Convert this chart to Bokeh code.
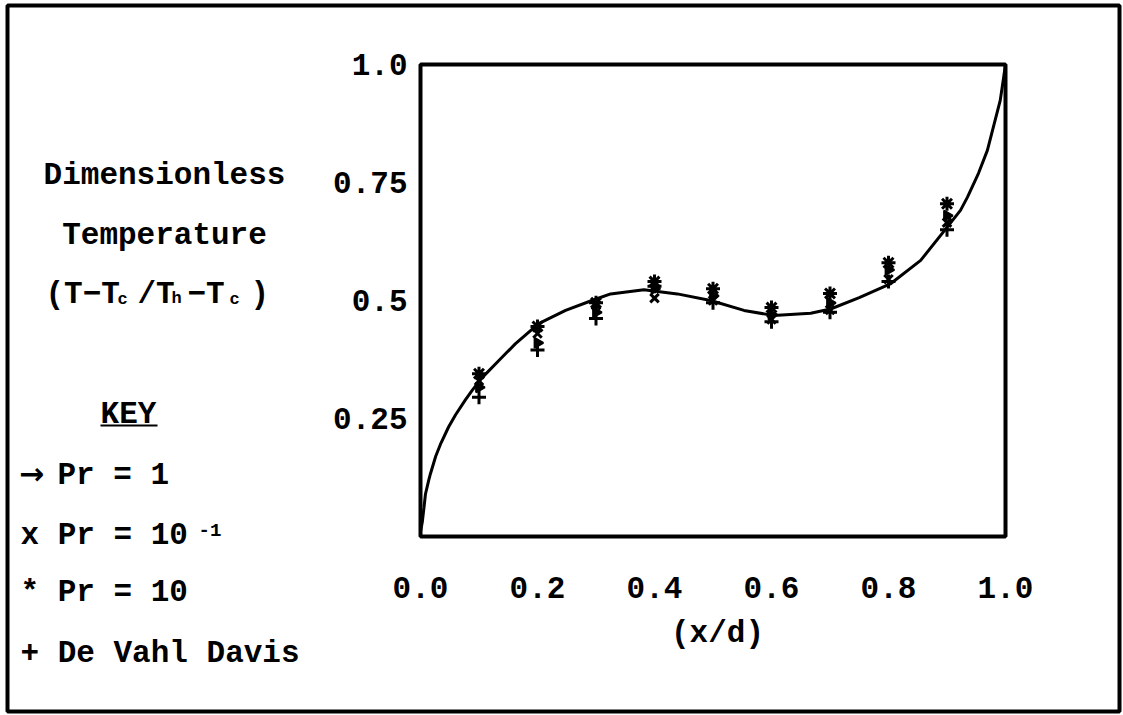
import math
from bokeh.plotting import figure
from bokeh.models import Range1d, FixedTicker, Label, BoxAnnotation
from bokeh.embed import file_html
from bokeh.resources import INLINE

# ---------------- data ----------------
curve_x = [0.0, 0.003, 0.006, 0.0085, 0.014, 0.017, 0.026, 0.034, 0.048, 0.06,
           0.077, 0.088, 0.105, 0.134, 0.162, 0.202, 0.248, 0.293, 0.325, 0.382,
           0.439, 0.496, 0.553, 0.604, 0.667, 0.701, 0.75, 0.803, 0.855, 0.9,
           0.923, 0.935, 0.954, 0.969, 0.991, 0.997, 1.0]
curve_y = [0.01, 0.03, 0.062, 0.09, 0.119, 0.133, 0.17, 0.195, 0.232, 0.258,
           0.29, 0.309, 0.336, 0.373, 0.408, 0.451, 0.479, 0.5, 0.514, 0.523,
           0.514, 0.5, 0.479, 0.468, 0.473, 0.482, 0.506, 0.535, 0.585, 0.655,
           0.691, 0.719, 0.77, 0.818, 0.924, 0.974, 1.0]

station_x = [0.1, 0.2, 0.3, 0.4, 0.5, 0.6, 0.7, 0.8, 0.9]
pr_1 = [0.316, 0.41, 0.475, 0.525, 0.51, 0.47, 0.495, 0.565, 0.68]
pr_01 = [0.33, 0.43, 0.49, 0.505, 0.5, 0.46, 0.48, 0.545, 0.665]
pr_10 = [0.345, 0.445, 0.495, 0.54, 0.525, 0.485, 0.515, 0.58, 0.705]
de_vahl_davis = [0.295, 0.395, 0.462, 0.53, 0.495, 0.455, 0.475, 0.54, 0.65]

x_ticks = [0.0, 0.2, 0.4, 0.6, 0.8, 1.0]
x_tick_labels = ["0.0", "0.2", "0.4", "0.6", "0.8", "1.0"]
y_ticks = [0.25, 0.5, 0.75, 1.0]
y_tick_labels = ["0.25", "0.5", "0.75", "1.0"]
x_title = "(x/d)"

FONT = "Liberation Mono"
FS = 31

# ---------------- layout: canvas pixels of the plot box ----------------
W, H = 1123, 715
BOX_L, BOX_R, BOX_T, BOX_B = 420, 1005, 64, 536
SX = (BOX_R - BOX_L)          # pixels per unit x
SY = (BOX_B - BOX_T)          # pixels per unit y


def dx(px):
    return (px - BOX_L) / SX


def dy(py):
    return (BOX_B - py) / SY


p = figure(width=W, height=H, output_backend="svg", toolbar_location=None,
           x_range=Range1d(dx(0), dx(W)), y_range=Range1d(dy(H), dy(0)),
           min_border=0)
p.grid.visible = False
p.outline_line_color = None
p.background_fill_color = "white"
p.border_fill_color = "white"

for ax in (p.xaxis[0], p.yaxis[0]):
    ax.fixed_location = 0
    ax.axis_line_color = None
    ax.major_tick_line_color = None
    ax.minor_tick_line_color = None
    ax.major_label_text_font = FONT
    ax.major_label_text_font_size = f"{FS}px"
    ax.major_label_text_font_style = "bold"
    ax.major_label_text_color = "black"

p.xaxis.ticker = FixedTicker(ticks=x_ticks)
p.xaxis.major_label_overrides = dict(zip(x_ticks, x_tick_labels))
p.yaxis.ticker = FixedTicker(ticks=y_ticks)
p.yaxis.major_label_overrides = dict(zip(y_ticks, y_tick_labels))
p.xaxis.major_label_standoff = 34
p.yaxis.major_label_standoff = 7

# plot box and outer border
p.add_layout(BoxAnnotation(left=0, right=1, bottom=0, top=1, fill_alpha=0,
                           line_color="black", line_width=4, line_alpha=1))
p.add_layout(BoxAnnotation(left=dx(7), right=dx(1119), top=dy(5), bottom=dy(711),
                           fill_alpha=0, line_color="black", line_width=4, line_alpha=1))

# ---------------- marks ----------------
p.line(curve_x, curve_y, line_width=3, line_color="black")
p.scatter(station_x, pr_1, marker="triangle", angle=-math.pi / 2, size=10,
          line_color="black", fill_color="black", line_width=2)
p.scatter(station_x, pr_01, marker="x", size=12, line_color="black", line_width=3)
p.scatter(station_x, pr_10, marker="asterisk", size=14, line_color="black", line_width=3)
p.scatter(station_x, de_vahl_davis, marker="cross", size=14, line_color="black", line_width=3)


def lab(text, sx, sy, size=FS, font=FONT, align="left", baseline="alphabetic"):
    p.add_layout(Label(x=dx(sx), y=dy(sy), text=text, text_font=font,
                       text_font_size=f"{size}px", text_font_style="bold",
                       text_color="black", text_align=align, text_baseline=baseline))


# x-axis title
lab(x_title, 717, 633, align="center")

# y-axis title (three lines)
lab("Dimensionless", 164, 175, align="center")
lab("Temperature", 164, 235, align="center")
lab("(T\u2212T", 45, 294)
lab("c", 117, 299, size=17)
lab("/T", 137, 294)
lab("h", 171, 298, size=17)
lab("\u2212T", 187, 294)
lab("c", 229, 299, size=17)
lab(")", 250, 294)

# key
lab("KEY", 128, 414, align="center")
p.add_layout(BoxAnnotation(left=dx(100), right=dx(157), top=dy(424), bottom=dy(426),
                           fill_color="black", fill_alpha=1, line_color=None))
lab("\u2192", 31, 473, size=30, font="DejaVu Sans", align="center", baseline="middle")
lab("Pr = 1", 57, 475)
lab("x Pr = 10", 20, 535)
lab("-1", 198, 529, size=19)
lab("* Pr = 10", 20, 592)
lab("+ De Vahl Davis", 20, 653)

open("out.html", "w").write(file_html(p, INLINE))
